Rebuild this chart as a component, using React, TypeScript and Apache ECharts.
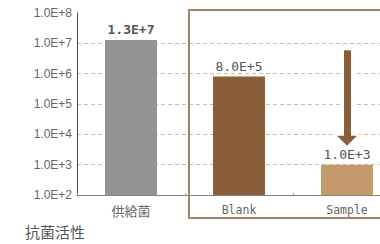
import React, { useEffect, useRef } from "react";
import * as echarts from "echarts";

const categories = ["供給菌", "Blank", "Sample"];
const values = [1.3e7, 8.0e5, 1.0e3];
const valueLabels = ["1.3E+7", "8.0E+5", "1.0E+3"];
const barColors = ["#939396", "#8a5d3b", "#c49a6c"];
const arrowFrom = 5.9e6;
const arrowTo = 6.1e3;
const yMin = 100;
const yMax = 1e8;
const title = "抗菌活性";

export default function App() {
  const ref = useRef<HTMLDivElement>(null);
  useEffect(() => {
    if (!ref.current) return;
    const chart = echarts.init(ref.current, undefined, { renderer: "svg" });
    const mono = "DejaVu Sans Mono";
    chart.setOption({
      animation: false,
      backgroundColor: "#ffffff",
      title: {
        text: title,
        left: 25,
        top: 224,
        padding: 0,
        textStyle: {
          fontSize: 15,
          fontWeight: "normal",
          color: "#555555",
          fontFamily: "Noto Sans CJK JP",
        },
      },
      grid: { left: 77, top: 13, width: 324, height: 182, outerBoundsMode: "none", containLabel: false },
      xAxis: {
        type: "category",
        data: categories,
        axisLine: { lineStyle: { color: "#8a8078", width: 1 } },
        axisTick: { show: true, inside: true, length: 2, lineStyle: { color: "#999999" } },
        axisLabel: {
          margin: 9,
          color: "#666666",
          fontSize: 11.5,
          fontFamily: mono,
          formatter: (v: string) => (/[A-Za-z]/.test(v) ? v : "{cjk|" + v + "}"),
          rich: {
            cjk: { fontSize: 13, fontFamily: "Noto Sans CJK JP", color: "#666666" },
          },
        },
      },
      yAxis: {
        type: "log",
        logBase: 10,
        min: yMin,
        max: yMax,
        interval: 1,
        axisLine: { show: true, lineStyle: { color: "#5a4a42", width: 1 } },
        axisTick: { show: false },
        axisLabel: {
          margin: 5,
          color: "#666666",
          fontSize: 12,
          fontFamily: "Liberation Sans",
          formatter: (v: number) => "1.0E+" + Math.round(Math.log10(v)),
        },
        splitLine: {
          show: true,
          showMinLine: false,
          showMaxLine: false,
          lineStyle: { color: "#dcb993", type: [4, 3], width: 1 },
        },
      },
      graphic: [
        {
          type: "rect",
          shape: { x: 189, y: 10, width: 220, height: 208 },
          style: { fill: "none", stroke: "#a3816a", lineWidth: 2 },
          z: 1,
        },
      ],
      series: [
        {
          type: "bar",
          barWidth: 52,
          data: values.map((v, i) => ({
            value: v,
            itemStyle: { color: barColors[i] },
            label: {
              show: true,
              position: "top",
              distance: 4,
              formatter: valueLabels[i],
              color: "#555555",
              fontSize: 13,
              fontFamily: mono,
              fontWeight: i === 0 ? "bold" : "normal",
            },
          })),
          markLine: {
            silent: true,
            animation: false,
            label: { show: false },
            data: [
              [
                {
                  coord: ["Sample", arrowFrom],
                  symbol: "none",
                  lineStyle: { color: "#ffffff", width: 13, type: "solid" },
                },
                { coord: ["Sample", arrowTo], symbol: "triangle", symbolSize: [26, 16] },
              ],
              [
                {
                  coord: ["Sample", arrowFrom],
                  symbol: "none",
                  lineStyle: { color: "#8a5d3b", width: 7, type: "solid" },
                },
                { coord: ["Sample", arrowTo], symbol: "triangle", symbolSize: [20, 10] },
              ],
            ],
          },
        },
      ],
    });
    return () => chart.dispose();
  }, []);
  return (
    <div
      ref={ref}
      style={{ position: "fixed", left: 0, top: 0, width: 380, height: 244 }}
    />
  );
}
